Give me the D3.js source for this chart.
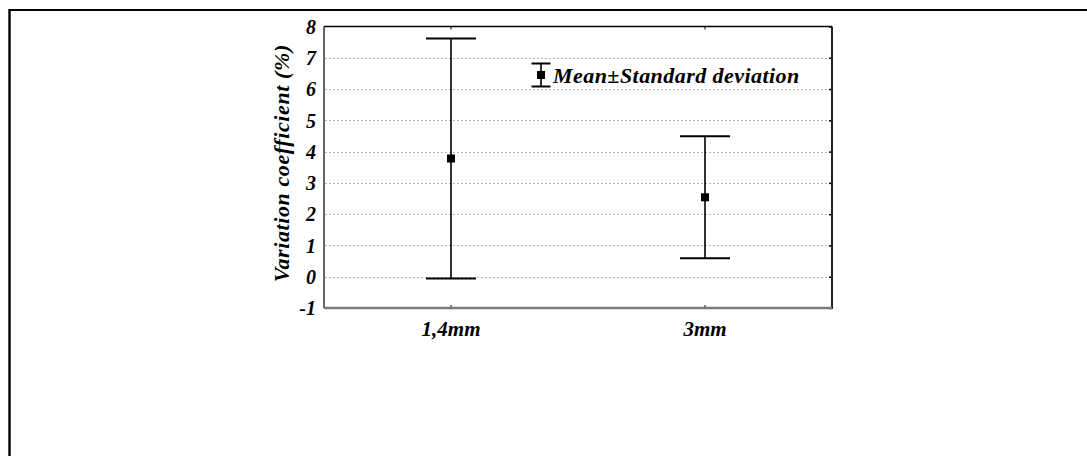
<!DOCTYPE html>
<html>
<head>
<meta charset="utf-8">
<script src="https://cdn.jsdelivr.net/npm/d3@7"></script>
<style>
  html, body { margin: 0; padding: 0; background: #fff; }
  svg { display: block; }
  text { font-family: "Liberation Serif", "Times New Roman", serif; font-weight: bold; font-style: italic; fill: #000; }
</style>
</head>
<body>
<svg id="chart" width="1087" height="456"></svg>
<script>
// Variation coefficient per sample thickness: mean and standard deviation
const categories = ["1,4mm", "3mm"];
const means = [3.78, 2.54];
const stdDevs = [3.84, 1.95];
const yTicks = [-1, 0, 1, 2, 3, 4, 5, 6, 7, 8];
const yTitle = "Variation coefficient (%)";
const legendLabel = "Mean\u00B1Standard deviation";

const svg = d3.select("#chart");
const W = 1087, H = 456;
const plot = { left: 324, right: 832, top: 26.5, bottom: 308 };

// page frame (top and left edges)
svg.append("line").attr("x1", 9.5).attr("x2", W).attr("y1", 10).attr("y2", 10)
  .attr("stroke", "#000").attr("stroke-width", 2.2);
svg.append("line").attr("x1", 9.5).attr("x2", 9.5).attr("y1", 9).attr("y2", H)
  .attr("stroke", "#000").attr("stroke-width", 2.4);

const x = d3.scaleBand().domain(categories).range([plot.left, plot.right]).padding(0);
const y = d3.scaleLinear().domain([-1, 8]).range([plot.bottom, plot.top]);

// horizontal dotted grid
svg.append("g").selectAll("line").data(yTicks.filter(t => t > -1 && t < 8)).join("line")
  .attr("x1", plot.left + 1).attr("x2", plot.right - 1)
  .attr("y1", d => Math.round(y(d)) + 0.5).attr("y2", d => Math.round(y(d)) + 0.5)
  .attr("stroke", "#b4b4b4").attr("stroke-width", 1).attr("stroke-dasharray", "2,2");

// axes with short inward ticks
const leftAxis = d3.axisLeft(y).tickValues(yTicks).tickSize(0).tickPadding(8).tickFormat(d => String(d));
const gL = svg.append("g").attr("transform", `translate(${plot.left},0)`).call(leftAxis);
gL.select(".domain").remove();
gL.selectAll("text").style("font-size", "20px").attr("dy", "0.34em");

const rightAxis = d3.axisLeft(y).tickValues(yTicks).tickSize(3).tickFormat("");
const gR = svg.append("g").attr("transform", `translate(${plot.right},0)`).call(rightAxis);
gR.select(".domain").remove();
gR.selectAll("line").attr("stroke", "#000").attr("stroke-width", 1.5);

const bottomAxis = d3.axisBottom(x).tickSize(-3).tickPadding(13);
const gB = svg.append("g").attr("transform", `translate(0,${plot.bottom})`).call(bottomAxis);
gB.select(".domain").remove();
gB.selectAll("line").attr("stroke", "#000").attr("stroke-width", 1);
gB.selectAll("text").style("font-size", "21px");

const topAxis = d3.axisTop(x).tickSize(-3).tickFormat("");
const gT = svg.append("g").attr("transform", `translate(0,${plot.top})`).call(topAxis);
gT.select(".domain").remove();
gT.selectAll("line").attr("stroke", "#000").attr("stroke-width", 1);

// plot frame
svg.append("line").attr("x1", plot.left).attr("x2", plot.right).attr("y1", plot.top).attr("y2", plot.top)
  .attr("stroke", "#000").attr("stroke-width", 1.5);
svg.append("line").attr("x1", plot.left).attr("x2", plot.left).attr("y1", plot.top).attr("y2", plot.bottom)
  .attr("stroke", "#000").attr("stroke-width", 1.2);
svg.append("line").attr("x1", plot.right).attr("x2", plot.right).attr("y1", plot.top).attr("y2", plot.bottom + 1)
  .attr("stroke", "#222").attr("stroke-width", 2);
svg.append("line").attr("x1", plot.left).attr("x2", plot.right).attr("y1", plot.bottom).attr("y2", plot.bottom)
  .attr("stroke", "#7a7a7a").attr("stroke-width", 2.5);

// y-axis title
svg.append("text")
  .attr("transform", `translate(289,${(plot.top + plot.bottom) / 2 - 4}) rotate(-90)`)
  .attr("text-anchor", "middle")
  .style("font-size", "22px")
  .style("letter-spacing", "0.6px")
  .text(yTitle);

// error bars
const capHalf = 25;
const bars = svg.append("g").selectAll("g").data(categories.map((c, i) => ({ c, m: means[i], s: stdDevs[i] }))).join("g");
bars.append("line")
  .attr("x1", d => x(d.c) + x.bandwidth() / 2).attr("x2", d => x(d.c) + x.bandwidth() / 2)
  .attr("y1", d => y(d.m + d.s)).attr("y2", d => y(d.m - d.s))
  .attr("stroke", "#000").attr("stroke-width", 1.6);
bars.append("line")
  .attr("x1", d => x(d.c) + x.bandwidth() / 2 - capHalf).attr("x2", d => x(d.c) + x.bandwidth() / 2 + capHalf)
  .attr("y1", d => y(d.m + d.s)).attr("y2", d => y(d.m + d.s))
  .attr("stroke", "#000").attr("stroke-width", 2);
bars.append("line")
  .attr("x1", d => x(d.c) + x.bandwidth() / 2 - capHalf).attr("x2", d => x(d.c) + x.bandwidth() / 2 + capHalf)
  .attr("y1", d => y(d.m - d.s)).attr("y2", d => y(d.m - d.s))
  .attr("stroke", "#000").attr("stroke-width", 2);
bars.append("rect")
  .attr("x", d => x(d.c) + x.bandwidth() / 2 - 4).attr("y", d => y(d.m) - 4)
  .attr("width", 8).attr("height", 8).attr("fill", "#000");

// legend
const lg = svg.append("g").attr("transform", "translate(541,75)");
lg.append("line").attr("x1", 0).attr("x2", 0).attr("y1", -11.5).attr("y2", 11.5).attr("stroke", "#000").attr("stroke-width", 1.6);
lg.append("line").attr("x1", -9.5).attr("x2", 9.5).attr("y1", -11.5).attr("y2", -11.5).attr("stroke", "#000").attr("stroke-width", 2);
lg.append("line").attr("x1", -9.5).attr("x2", 9.5).attr("y1", 11.5).attr("y2", 11.5).attr("stroke", "#000").attr("stroke-width", 2);
lg.append("rect").attr("x", -4).attr("y", -4).attr("width", 8).attr("height", 8).attr("fill", "#000");
lg.append("text").attr("x", 12).attr("y", 7.5).style("font-size", "22px").style("letter-spacing", "0.45px").text(legendLabel);
</script>
</body>
</html>
